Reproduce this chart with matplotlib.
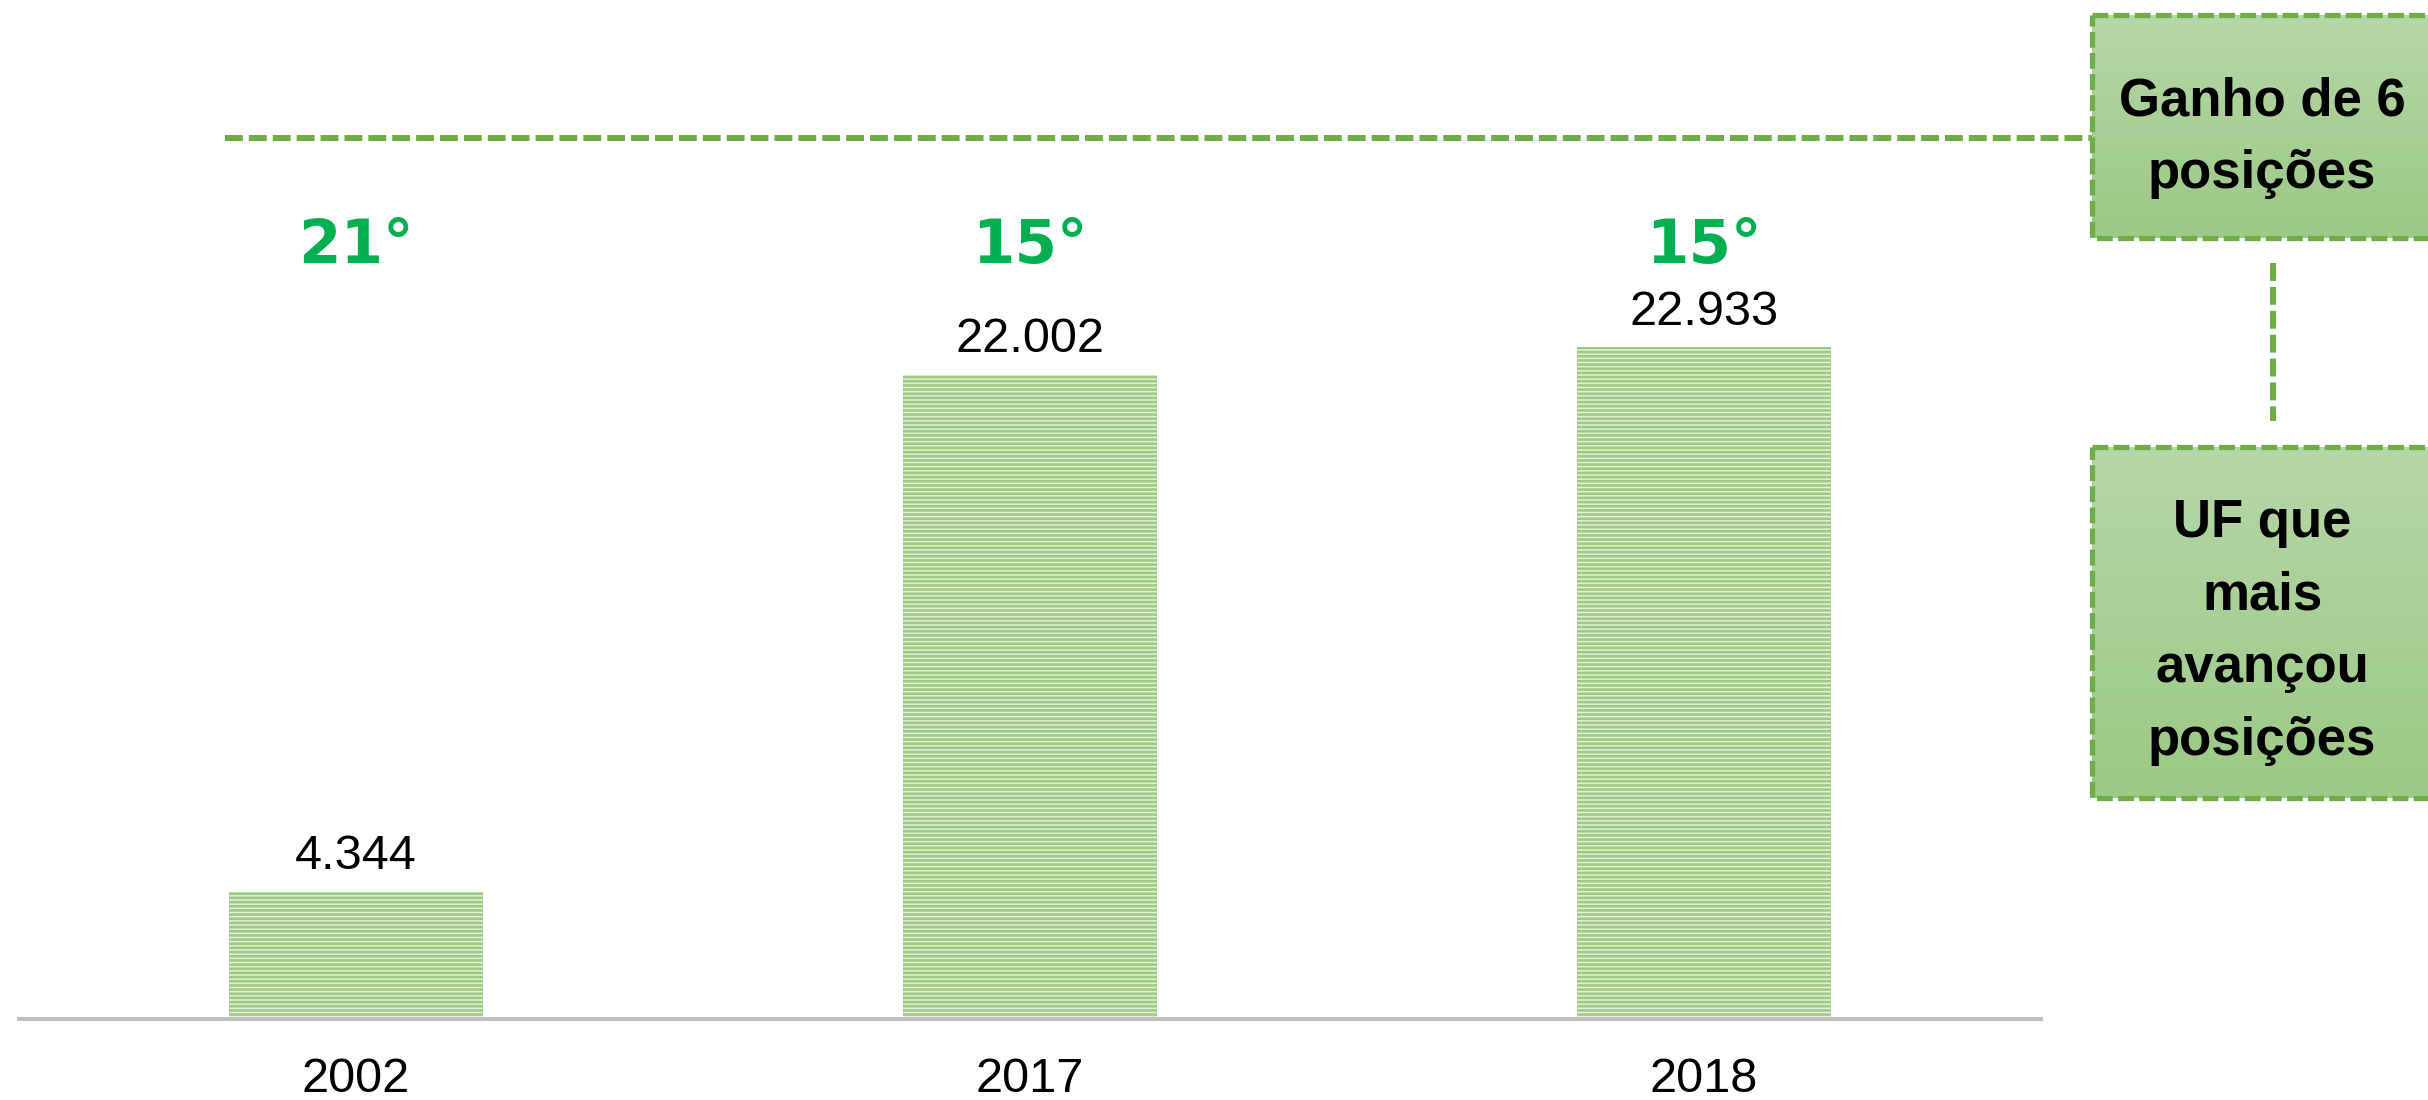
import numpy as np
import matplotlib.pyplot as plt
from matplotlib.patches import Rectangle

# dados
anos = ["2002", "2017", "2018"]
valores = [4344, 22002, 22933]
rotulos_valores = ["4.344", "22.002", "22.933"]
posicoes = ["21°", "15°", "15°"]
texto_caixa1 = "Ganho de 6\nposições"
texto_caixa2 = "UF que\nmais\navançou\nposições"

verde = "#70ad47"
verde_texto = "#00b050"

plt.rcParams['font.family'] = ['Liberation Sans', 'DejaVu Sans']
plt.rcParams['hatch.linewidth'] = 1.9

W, H = 2428, 1100
fig = plt.figure(figsize=(W / 100, H / 100), dpi=100, facecolor="white")

# eixo principal (barras)
ax = fig.add_axes([19 / W, 81 / H, (2041 - 19) / W, 1019 / H])
x = np.arange(len(anos))
barras = ax.bar(x, valores, width=0.377, color="#e2f0d9", edgecolor="#9fca84",
                linewidth=0, hatch="----", zorder=2)
ax.bar_label(barras, labels=rotulos_valores, padding=9, fontsize=35, color="black")
ax.set_xlim(-0.5, 2.5)
ax.set_ylim(0, 34800)
ax.set_xticks(x)
ax.set_xticklabels(anos, fontsize=35)
ax.tick_params(axis="x", length=0, pad=27)
ax.set_yticks([])
for s in ["top", "right", "left"]:
    ax.spines[s].set_visible(False)
ax.spines["bottom"].set_color("#bfbfbf")
ax.spines["bottom"].set_linewidth(2.9)
ax.spines["bottom"].set_zorder(3)

# posicoes no ranking
trans = ax.get_xaxis_transform()
for xi, p in zip(x, posicoes):
    ax.text(xi, 0.758, p, transform=trans, ha="center", va="center",
            fontsize=44, fontweight="bold", color=verde_texto,
            family=["DejaVu Sans"])

# camada de anotacoes em pixels
ov = fig.add_axes([0, 0, 1, 1], zorder=5)
ov.axis("off")
ov.patch.set_visible(False)

ov.plot([225, 2092], [138, 138], color=verde, lw=4.3, dashes=(3, 1),
        dash_capstyle="butt")
ov.plot([2273, 2273], [263, 421], color=verde, lw=4.3, dashes=(3, 1),
        dash_capstyle="butt")

grad = np.linspace(0, 1, 256).reshape(-1, 1)
cmap = plt.matplotlib.colors.LinearSegmentedColormap.from_list("g", ["#b6d7a8", "#9cc985"])


def caixa(x0, y0, x1, y1, texto, ty):
    ov.imshow(grad, cmap=cmap, extent=(x0, x1, y1, y0), aspect="auto", zorder=1)
    ov.add_patch(Rectangle((x0, y0), x1 - x0, y1 - y0, fill=False, edgecolor=verde,
                           lw=3.8, linestyle=(0, (3, 1)), zorder=2))
    ov.text(2262, ty, texto, ha="center", va="center", fontsize=38,
            fontweight="bold", color="black", linespacing=1.58, zorder=3)


caixa(2092, 15, 2445, 238, texto_caixa1, 138)
caixa(2092, 447, 2445, 798, texto_caixa2, 632)
ov.set_xlim(0, W)
ov.set_ylim(H, 0)

fig.savefig("out.png", dpi=100, facecolor="white")
